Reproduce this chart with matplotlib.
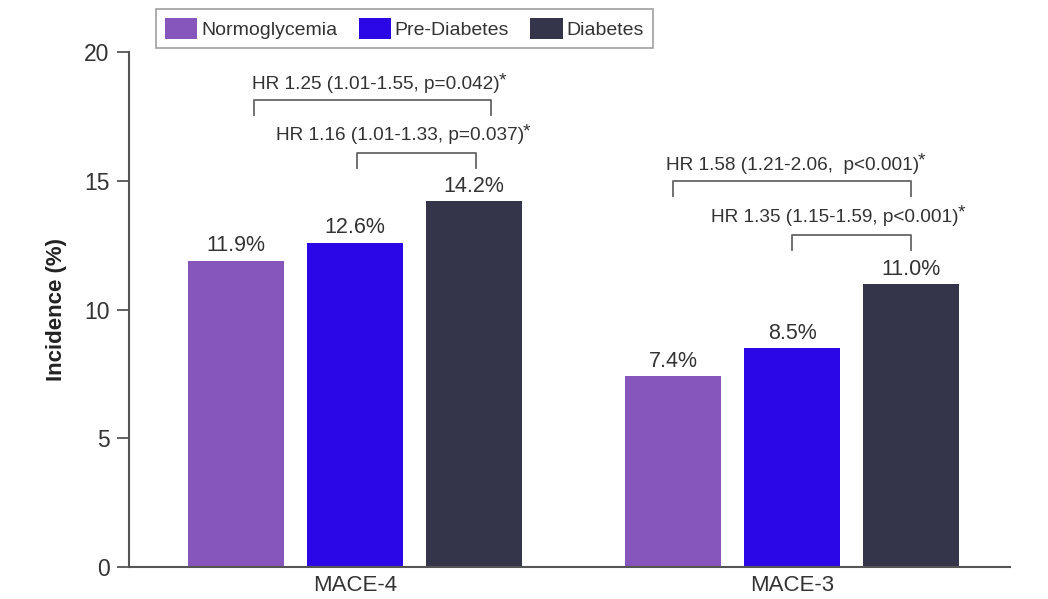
import matplotlib
matplotlib.use("Agg")
import matplotlib.pyplot as plt
import numpy as np

plt.rcParams['font.family'] = ['Liberation Sans', 'DejaVu Sans']

categories = ["MACE-4", "MACE-3"]
series_names = ["Normoglycemia", "Pre-Diabetes", "Diabetes"]
normo = [11.9, 7.4]
prediab = [12.6, 8.5]
diab = [14.2, 11.0]
value_labels = [["11.9%", "7.4%"], ["12.6%", "8.5%"], ["14.2%", "11.0%"]]
colors = ["#8656BC", "#2B06E6", "#34354A"]

hr_texts = ["HR 1.25 (1.01-1.55, p=0.042)", "HR 1.16 (1.01-1.33, p=0.037)",
            "HR 1.58 (1.21-2.06,  p<0.001)", "HR 1.35 (1.15-1.59, p<0.001)"]
# (group, bar i, bar j)
hr_pairs = [(0, 0, 2), (0, 1, 2), (1, 0, 2), (1, 1, 2)]

fig = plt.figure(figsize=(10.48, 5.99), dpi=100)
ax = fig.add_axes([0.123, 0.0534, 0.841, 0.8598])

x = np.arange(len(categories))
off = 0.272
width = 0.22
series = [normo, prediab, diab]
for k, (vals, c, name) in enumerate(zip(series, colors, series_names)):
    pos = x + (k - 1) * off
    bars = ax.bar(pos, vals, width=width, color=c, label=name, zorder=2)
    for b, lab in zip(bars, value_labels[k]):
        ax.annotate(lab, (b.get_x() + b.get_width() / 2, b.get_height()),
                    xytext=(0, 3), textcoords="offset points",
                    ha="center", va="bottom", fontsize=15.5, color="#333333")

# significance brackets
shift = [0.04, 0.005, 0.0, 0.0]
br_top = [18.14, 16.08, 14.99, 12.89]
drop = 0.58
txt_pos = [(0.048, 18.72), (0.103, 16.74), (1.0, 15.61), (1.098, 13.59)]
for (g, i, j), s, yt, txt, (tx, ty) in zip(hr_pairs, shift, br_top, hr_texts, txt_pos):
    x1 = g + (i - 1) * off + s
    x2 = g + (j - 1) * off + s
    ax.plot([x1, x1, x2, x2], [yt - drop, yt, yt, yt - drop], color="#666666",
            lw=1.3, clip_on=False)
    t = ax.text(tx, ty, txt, ha="center", va="center", fontsize=13.7, color="#333333")
    ax.annotate("*", xy=(1, 1), xycoords=t, xytext=(-1, -3), textcoords="offset points",
                ha="left", va="center", fontsize=14, color="#333333")

ax.set_xlim(-0.517, 1.499)
ax.set_ylim(0, 20)
ax.set_yticks([0, 5, 10, 15, 20])
ax.set_xticks(x)
ax.set_xticklabels(categories, fontsize=16, color="#333333")
ax.tick_params(axis="x", length=0, pad=6)
ax.tick_params(axis="y", length=9, width=1.3, color="#555555", labelsize=16.5,
               labelcolor="#333333", pad=5)
ax.set_ylabel("Incidence (%)", fontsize=16, fontweight="bold", color="#222222", labelpad=12)
for sp in ["top", "right"]:
    ax.spines[sp].set_visible(False)
for sp in ["left", "bottom"]:
    ax.spines[sp].set_color("#555555")
    ax.spines[sp].set_linewidth(1.5)

leg = ax.legend(loc="upper center", bbox_to_anchor=(0.386, 0.985),
                bbox_transform=fig.transFigure, ncol=3, fontsize=14,
                frameon=True, fancybox=False, edgecolor="#888888",
                handlelength=1.65, handleheight=1.3, handletextpad=0.2,
                columnspacing=1.1, borderpad=0.45, borderaxespad=0)
leg.get_frame().set_linewidth(1.2)
for t in leg.get_texts():
    t.set_color("#333333")

fig.savefig("out.png", dpi=100)
